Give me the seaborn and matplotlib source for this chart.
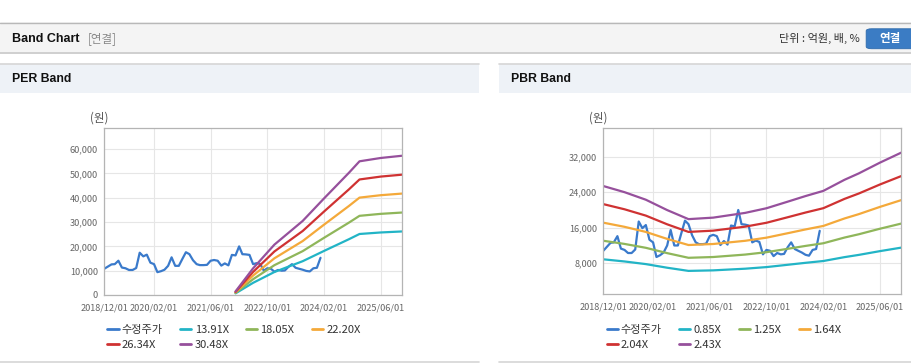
import matplotlib
matplotlib.use("Agg")
import matplotlib.pyplot as plt
from matplotlib.patches import Rectangle, FancyBboxPatch
from matplotlib.lines import Line2D
import seaborn as sns
import pandas as pd

# values
price_start = "2018-12-01"
price = [10800, 11700, 12600, 12700, 14100, 11300, 11000, 10300, 10300, 11100,
         17400, 15900, 16600, 13300, 12700, 9400, 9800, 10400, 12000, 15500,
         12000, 12000, 14800, 17600, 16800, 14300, 12700, 12300, 12300, 12400,
         14100, 14400, 14100, 12100, 13000, 12200, 16500, 16300, 20000, 16800,
         16700, 16500, 12700, 13100, 12800, 10000, 11000, 10800, 9600, 10300,
         10000, 10100, 11600, 12700, 11200, 10800, 10400, 9900, 9700, 11000,
         11200, 15300]

per_dates = ["2022-01-01", "2022-06-01", "2022-12-01", "2023-08-01", "2024-02-01",
             "2024-09-01", "2024-12-01", "2025-06-01", "2025-12-01"]
per_eps = [48, 360, 680, 1000, 1305, 1650, 1805, 1850, 1880]
per_mults = [13.91, 18.05, 22.20, 26.34, 30.48]

pbr_dates = ["2018-12-01", "2019-06-01", "2019-12-01", "2020-06-01", "2020-12-01",
             "2021-07-01", "2022-04-01", "2022-10-01", "2023-04-01", "2023-09-01",
             "2024-02-01", "2024-08-01", "2024-12-01", "2025-06-01", "2025-12-01"]
pbr_bps = [10450, 9880, 9180, 8220, 7380, 7520, 7960, 8390, 9000, 9520,
           10000, 11030, 11620, 12620, 13550]
pbr_mults = [0.85, 1.25, 1.64, 2.04, 2.43]

tick_dates = ["2018-12-01", "2020-02-01", "2021-06-01", "2022-10-01", "2024-02-01", "2025-06-01"]
price_label = "수정주가"

price_color = "#3a7acb"
band_colors = ["#22b4c6", "#8fb65a", "#f4a93a", "#cf3232", "#96509c"]

W, H = 912, 364
sns.set_style("white")
plt.rcParams["font.family"] = ["Noto Sans CJK KR", "DejaVu Sans"]
latin = ["Liberation Sans", "Noto Sans CJK KR"]

fig = plt.figure(figsize=(W / 100, H / 100), dpi=100)


def rect(x0, y0, x1, y1, color):
    fig.patches.append(Rectangle((x0 / W, 1 - y1 / H), (x1 - x0) / W, (y1 - y0) / H,
                                 transform=fig.transFigure, facecolor=color,
                                 edgecolor="none", zorder=0))


def hline(x0, x1, y, color, lw=0.8):
    fig.add_artist(Line2D([x0 / W, x1 / W], [1 - y / H] * 2, transform=fig.transFigure,
                          color=color, lw=lw))


def text(x, y, s, **kw):
    fig.text(x / W, 1 - y / H, s, va="center", **kw)


# page header
rect(0, 22, W, 53, "#f4f4f4")
hline(0, W, 22.5, "#b8b8b8", 1.0)
hline(0, W, 53, "#cfcfcf", 1.4)
text(12, 38.5, "Band Chart", fontsize=9, fontweight="bold", family=latin, color="#111")
text(88, 38.5, "[연결]", fontsize=8.3, color="#888")
text(860, 38.5, "단위 : 억원, 배, %", fontsize=8, color="#333", ha="right")
fig.patches.append(FancyBboxPatch((868 / W, 1 - 48 / H), 50 / W, 18.5 / H,
                                  boxstyle="round,pad=0.002,rounding_size=0.006",
                                  transform=fig.transFigure, facecolor="#3b7cc4",
                                  edgecolor="#2e6aab", lw=0.6))
text(890, 38.5, "연결", fontsize=8.3, fontweight="bold", color="white", ha="center")

# panels
for x0, x1, title in [(0, 479, "PER Band"), (499, W, "PBR Band")]:
    rect(x0, 64, x1, 92.5, "#eef2f7")
    hline(x0, x1, 64, "#d6d6d6", 1.2)
    hline(x0, x1, 361.5, "#d6d6d6", 1.2)
    text(x0 + 12, 79.5, title, fontsize=8.8, fontweight="bold", family=latin, color="#111")


def make_ax(left, right, top, bottom):
    return fig.add_axes([left / W, 1 - bottom / H, (right - left) / W, (bottom - top) / H])


def band_frame(base_dates, base_vals, mults, start):
    rows = []
    dates = pd.date_range(start, periods=len(price), freq="MS")
    for d, v in zip(dates, price):
        rows.append((d, v, price_label))
    for m in mults:
        name = f"{m:.2f}X"
        for d, v in zip(pd.to_datetime(base_dates), base_vals):
            rows.append((d, v * m, name))
    return pd.DataFrame(rows, columns=["date", "value", "series"])


def draw_panel(ax, df, mults, ylim, yticks, legend_x, unit_x):
    names = [price_label] + [f"{m:.2f}X" for m in mults]
    palette = dict(zip(names, [price_color] + band_colors))
    sns.lineplot(data=df, x="date", y="value", hue="series", hue_order=names,
                 palette=palette, lw=1.6, legend=False, ax=ax, estimator=None)
    ax.set_xlim(pd.Timestamp("2018-12-01"), pd.Timestamp("2025-12-01"))
    ax.set_ylim(*ylim)
    ticks = pd.to_datetime(tick_dates)
    ax.set_xticks(ticks)
    ax.set_xticklabels([t.strftime("%Y/%m/%d") for t in ticks])
    ax.set_yticks(yticks)
    ax.set_yticklabels([f"{v:,}" for v in yticks])
    ax.set_xlabel("")
    ax.set_ylabel("")
    ax.grid(True, color="#e6e6e6", lw=0.8)
    ax.set_axisbelow(True)
    ax.tick_params(labelsize=6.6, labelcolor="#666", length=3, width=0.8,
                   color="#aaaaaa", direction="out", pad=1.5)
    ax.tick_params(axis="x", pad=3)
    for s in ax.spines.values():
        s.set_color("#b4b4b4")
        s.set_linewidth(0.9)

    text(unit_x, 118, "(원)", fontsize=8.3, color="#555", ha="center")

    # legend, column-major order so rows read like the reference
    order = [0, 4, 1, 5, 2, 3]
    handles = [Line2D([], [], color=palette[names[i]], lw=2) for i in order]
    labels = [names[i] for i in order]
    fig.legend(handles, labels, loc="upper left", bbox_to_anchor=(legend_x / W, 1 - 325 / H),
               ncol=4, frameon=False, fontsize=8, handlelength=1.0, handletextpad=0.3,
               columnspacing=1.55, labelspacing=0.45, borderpad=0, borderaxespad=0,
               labelcolor="#333")


ax1 = make_ax(104.3, 402, 128.3, 295)
draw_panel(ax1, band_frame(per_dates, per_eps, per_mults, price_start), per_mults,
           (0, 68600), [0, 10000, 20000, 30000, 40000, 50000, 60000], 107.5, 99)

ax2 = make_ax(603.3, 901.3, 128.3, 294.3)
draw_panel(ax2, band_frame(pbr_dates, pbr_bps, pbr_mults, price_start), pbr_mults,
           (1000, 38400), [8000, 16000, 24000, 32000], 606.5, 598)

fig.savefig("out.png", dpi=100, facecolor="white")
